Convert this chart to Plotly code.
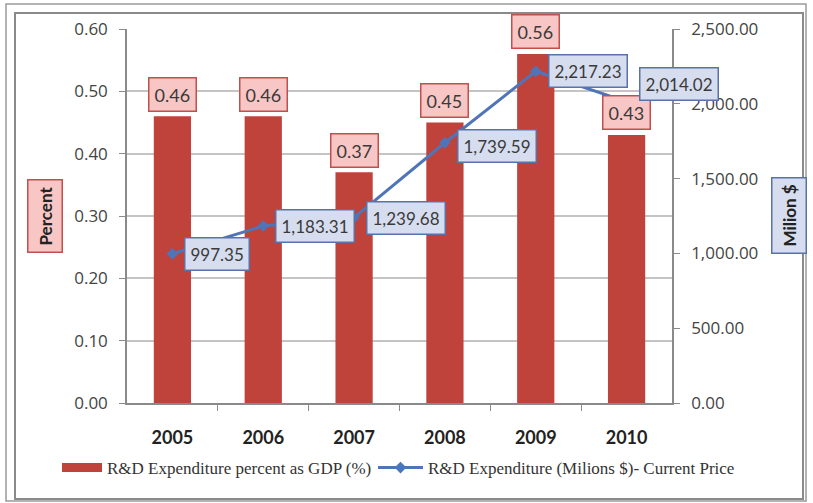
import plotly.graph_objects as go

years = ["2005", "2006", "2007", "2008", "2009", "2010"]
pct_gdp = [0.46, 0.46, 0.37, 0.45, 0.56, 0.43]
million_usd = [997.35, 1183.31, 1239.68, 1739.59, 2217.23, 2014.02]
pct_ticks = [0.0, 0.1, 0.2, 0.3, 0.4, 0.5, 0.6]
usd_ticks = [0, 500, 1000, 1500, 2000, 2500]
bar_name = "R&D Expenditure percent as GDP (%)"
line_name = "R&D Expenditure (Milions $)- Current Price"

W, H = 813, 503
L, R, T, B = 127, 141, 29, 100
PW, PH = W - L - R, H - T - B

def px(x):
    return (x - L) / PW

def py(y):
    return (H - B - y) / PH

BAR = "#c0433b"
LINE = "#4f74b8"
TXT = "#3a3a3a"
FONT = "Lato"
TICKFONT = "Open Sans"

xpos = list(range(len(years)))
bounds = [i + 0.5 for i in xpos[:-1]]

fig = go.Figure()
fig.add_trace(go.Bar(
    x=xpos, y=pct_gdp, name=bar_name, showlegend=False,
    marker=dict(color=BAR, line=dict(width=0)), width=0.41, yaxis="y",
))
# legend swatch for the bars (wide rectangle as in the original)
fig.add_trace(go.Scatter(
    x=[None], y=[None], name=bar_name, mode="lines",
    line=dict(color=BAR, width=9), legend="legend",
))
fig.add_trace(go.Scatter(
    x=xpos, y=million_usd, name=line_name, legend="legend2",
    mode="lines+markers", yaxis="y2",
    line=dict(color=LINE, width=3),
    marker=dict(symbol="diamond", size=9, color=LINE),
))

annotations = []
for xi, v in zip(xpos, pct_gdp):
    annotations.append(dict(
        x=xi, y=v, xref="x", yref="y", text=f"{v:.2f}", showarrow=False,
        yshift=22, font=dict(family=FONT, size=18, color=TXT),
        bgcolor="#f8c6c4", bordercolor="#c0504d", borderwidth=1.5, borderpad=5,
    ))
line_yshift = [0, 0, 0, -3, 0, 18]
for xi, v, ys in zip(xpos, million_usd, line_yshift):
    annotations.append(dict(
        x=xi, y=v, xref="x", yref="y2", text=f"{v:,.2f}", showarrow=False,
        xanchor="left", xshift=12, yshift=ys,
        font=dict(family=FONT, size=17, color=TXT),
        bgcolor="#d6ddef", bordercolor="#5a72a8", borderwidth=1.5, borderpad=5,
    ))
annotations.append(dict(
    x=px(45), y=py(216), xref="paper", yref="paper", text="<b>Percent</b>",
    xanchor="center", yanchor="middle",
    textangle=-90, showarrow=False, font=dict(family=FONT, size=17, color="#222"),
    bgcolor="#f8c6c4", bordercolor="#c0504d", borderwidth=1.5, borderpad=6,
))
annotations.append(dict(
    x=px(789), y=py(216), xref="paper", yref="paper", text="<b>Milion $</b>",
    xanchor="center", yanchor="middle",
    textangle=-90, showarrow=False, font=dict(family=FONT, size=17, color="#222"),
    bgcolor="#d6ddef", bordercolor="#5a72a8", borderwidth=1.5, borderpad=6,
))

shapes = [
    dict(type="rect", xref="paper", yref="paper",
         x0=px(6), x1=px(806), y0=py(501), y1=py(4),
         line=dict(color="#9a9a9a", width=1.5), layer="below"),
    dict(type="rect", xref="paper", yref="paper",
         x0=px(15), x1=px(803), y0=py(499), y1=py(13),
         line=dict(color="#8a8a8a", width=2), layer="below"),
]

legfont = dict(family="Liberation Serif", size=17, color="#333")
fig.update_layout(
    width=W, height=H,
    margin=dict(l=L, r=R, t=T, b=B, pad=0, autoexpand=False),
    paper_bgcolor="white", plot_bgcolor="white",
    showlegend=True,
    legend=dict(orientation="h", x=px(57), y=py(468), xanchor="left", yanchor="middle",
                font=legfont, bgcolor="rgba(0,0,0,0)", itemwidth=40),
    legend2=dict(orientation="h", x=px(373), y=py(468), xanchor="left", yanchor="middle",
                 font=legfont, bgcolor="rgba(0,0,0,0)", itemwidth=45),
    xaxis=dict(range=[-0.5, len(years) - 0.5], tickvals=xpos, ticktext=years,
               ticks="outside", ticklen=18, tickcolor="rgba(0,0,0,0)",
               minor=dict(tickvals=bounds, ticks="outside", ticklen=6,
                          tickcolor="#8a8a8a", showgrid=False),
               showline=True, linecolor="#8a8a8a", linewidth=1.5,
               showgrid=False, zeroline=False,
               tickfont=dict(family=FONT, size=18, color="#222", weight="bold")),
    yaxis=dict(range=[0, 0.6], tickvals=pct_ticks, tickformat=".2f",
               ticks="outside", ticklen=6, tickcolor="#8a8a8a",
               showline=True, linecolor="#8a8a8a", linewidth=1.5,
               showgrid=True, gridcolor="#c4c4c4", gridwidth=1.5, zeroline=False,
               ticklabelstandoff=8,
               tickfont=dict(family=TICKFONT, size=17, color="#444")),
    yaxis2=dict(range=[0, 2500], tickvals=usd_ticks, tickformat=",.2f",
                overlaying="y", side="right", anchor="x",
                ticks="outside", ticklen=6, tickcolor="#8a8a8a",
                showline=True, linecolor="#8a8a8a", linewidth=1.5,
                showgrid=False, zeroline=False, ticklabelstandoff=8,
                tickfont=dict(family=TICKFONT, size=17, color="#444")),
    annotations=annotations,
    shapes=shapes,
)

fig.write_html("out.html")
